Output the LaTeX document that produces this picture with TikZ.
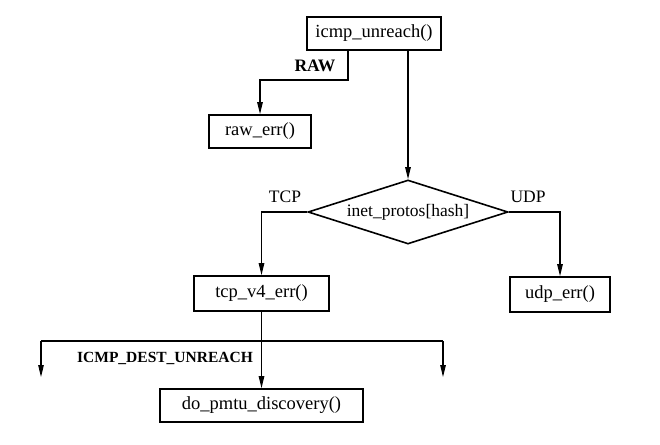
\documentclass[tikz,border=0pt]{standalone}
\usepackage{fontspec}
\setmainfont{Liberation Serif}
\usetikzlibrary{shapes.geometric,arrows.meta}
\begin{document}
\begin{tikzpicture}[x=1pt,y=-1pt,
  fn/.style={draw,line width=1.6pt,inner sep=0pt,font=\fontsize{18.5}{18.5}\selectfont},
  lbl/.style={inner sep=0pt,font=\fontsize{17.5}{17.5}\selectfont},
  conn/.style={line width=1.2pt,-{Triangle[length=12pt,width=5.5pt]}},
  plain/.style={line width=1.2pt}]
\useasboundingbox (0,0) rectangle (660,444);
\node[fn,minimum width=134pt,minimum height=33pt] (icmp) at (374,33.5) {icmp\_unreach()};
\node[fn,minimum width=102pt,minimum height=33pt] (raw) at (260,131.5) {raw\_err()};
\node[fn,diamond,aspect=3.1,minimum width=200pt,minimum height=64pt,font=\fontsize{17.5}{17.5}\selectfont] (dia) at (408,212) {inet\_protos[hash]};
\node[fn,minimum width=135pt,minimum height=35pt] (tcp) at (261.5,293.5) {tcp\_v4\_err()};
\node[fn,minimum width=100pt,minimum height=35pt] (udp) at (560,294.5) {udp\_err()};
\node[fn,minimum width=203pt,minimum height=33pt] (pmtu) at (261.5,405.5) {do\_pmtu\_discovery()};
\node[lbl] (lraw) at (315,66) {\textbf{RAW}};
\node[lbl] (ltcp) at (285,197) {TCP};
\node[lbl] (ludp) at (528,197) {UDP};
\node[lbl,font=\fontsize{15.5}{15.5}\selectfont] (ldest) at (165,358) {\textbf{ICMP\_DEST\_UNREACH}};
\coordinate (rawa) at (348,50);
\coordinate (rawb) at (348,80);
\coordinate (jn) at (261.5,341);
\coordinate (la) at (41,341);
\coordinate (lb) at (41,377);
\coordinate (ra) at (443,341);
\coordinate (rb) at (443,377);
\draw[conn] (rawa) -- (rawb) -| (raw.north);
\draw[conn] (icmp.south -| dia.north) -- (dia.north);
\draw[conn] (dia.west) -| (tcp.north);
\draw[conn] (dia.east) -| (udp.north);
\draw[plain] (tcp.south) -- (jn);
\draw[plain] (la) -- (ra);
\draw[conn] (la) -- (lb);
\draw[conn] (ra) -- (rb);
\draw[conn] (jn) -- (pmtu.north);
\end{tikzpicture}
\end{document}
